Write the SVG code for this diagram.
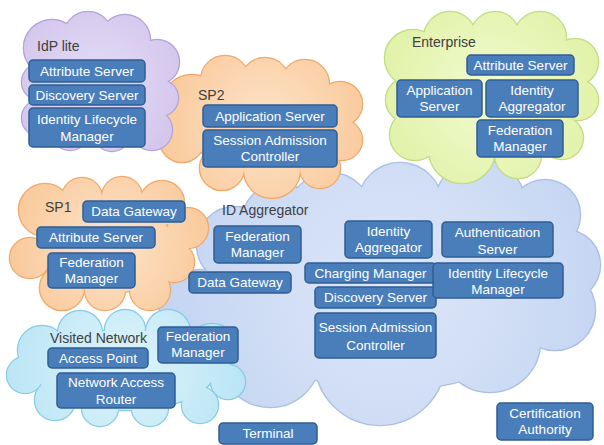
<svg xmlns="http://www.w3.org/2000/svg" xmlns:xlink="http://www.w3.org/1999/xlink" width="604" height="445" viewBox="0 0 604 445">
<style>
  .bg { fill: #ffffff; }
  .ol { stroke-width: 2.5; }
  .fl { stroke: none; }
  .box rect { fill: #4a7ebb; stroke: #2f5e95; stroke-width: 1.5; }
  .box text { fill: #ffffff; font-family: "Liberation Sans", Arial, sans-serif; font-size: 13.5px; text-anchor: middle; }
  .lbl { fill: #404040; font-family: "Liberation Sans", Arial, sans-serif; font-size: 14px; }
</style>
<defs>
  <radialGradient id="g-idp" gradientUnits="userSpaceOnUse" cx="97" cy="82" r="95">
    <stop offset="0" stop-color="#e4dcf6"/><stop offset="1" stop-color="#d2c5ec"/>
  </radialGradient>
  <radialGradient id="g-sp2" gradientUnits="userSpaceOnUse" cx="265" cy="125" r="115">
    <stop offset="0" stop-color="#fde4ca"/><stop offset="1" stop-color="#f9c797"/>
  </radialGradient>
  <radialGradient id="g-ent" gradientUnits="userSpaceOnUse" cx="490" cy="95" r="125">
    <stop offset="0" stop-color="#f2fad0"/><stop offset="1" stop-color="#dff1a4"/>
  </radialGradient>
  <radialGradient id="g-sp1" gradientUnits="userSpaceOnUse" cx="110" cy="245" r="110">
    <stop offset="0" stop-color="#fde4ca"/><stop offset="1" stop-color="#f9c797"/>
  </radialGradient>
  <radialGradient id="g-id" gradientUnits="userSpaceOnUse" cx="390" cy="290" r="235">
    <stop offset="0" stop-color="#dee7f8"/><stop offset="1" stop-color="#c3d4f2"/>
  </radialGradient>
  <radialGradient id="g-vis" gradientUnits="userSpaceOnUse" cx="125" cy="368" r="125">
    <stop offset="0" stop-color="#def4fb"/><stop offset="1" stop-color="#b9e4f5"/>
  </radialGradient>

  <g id="s-id">
    <circle cx="235" cy="245" r="38"/><circle cx="280" cy="222" r="38"/>
    <circle cx="330" cy="215" r="42"/><circle cx="400" cy="205" r="42"/>
    <circle cx="480" cy="205" r="45"/><circle cx="545" cy="215" r="35"/>
    <circle cx="565" cy="265" r="35"/><circle cx="555" cy="310" r="40"/>
    <circle cx="490" cy="342" r="50"/><circle cx="380" cy="360" r="65"/>
    <circle cx="270" cy="357" r="50"/><circle cx="200" cy="310" r="40"/>
    <ellipse cx="390" cy="290" rx="170" ry="100"/>
  </g>
  <g id="s-sp2">
    <circle cx="192" cy="105" r="30"/><circle cx="225" cy="80" r="24"/>
    <circle cx="265" cy="82" r="24"/><circle cx="305" cy="84" r="24"/>
    <circle cx="340" cy="104" r="22"/><circle cx="342" cy="140" r="20"/>
    <circle cx="320" cy="168" r="20"/><circle cx="272" cy="170" r="28"/>
    <circle cx="222" cy="168" r="22"/><circle cx="182" cy="140" r="22"/>
    <ellipse cx="265" cy="128" rx="75" ry="45"/>
  </g>
  <g id="s-ent">
    <circle cx="413" cy="58" r="28"/><circle cx="450" cy="38" r="26"/>
    <circle cx="495" cy="36" r="24"/><circle cx="540" cy="38" r="26"/>
    <circle cx="575" cy="62" r="23"/><circle cx="578" cy="100" r="20"/>
    <circle cx="562" cy="138" r="21"/><circle cx="518" cy="155" r="23"/>
    <circle cx="462" cy="150" r="33"/><circle cx="415" cy="135" r="25"/>
    <circle cx="408" cy="100" r="22"/>
    <ellipse cx="490" cy="100" rx="80" ry="55"/>
  </g>
  <g id="s-sp1">
    <circle cx="45" cy="210" r="26"/><circle cx="82" cy="198" r="20"/>
    <circle cx="122" cy="197" r="20"/><circle cx="162" cy="203" r="22"/>
    <circle cx="188" cy="228" r="20"/><circle cx="174" cy="262" r="20"/>
    <circle cx="150" cy="290" r="20"/><circle cx="105" cy="290" r="20"/>
    <circle cx="62" cy="288" r="22"/><circle cx="30" cy="258" r="20"/>
    <ellipse cx="110" cy="248" rx="65" ry="45"/>
  </g>
  <g id="s-vis">
    <circle cx="42" cy="350" r="24"/><circle cx="80" cy="333" r="22"/>
    <circle cx="125" cy="330" r="20"/><circle cx="168" cy="332" r="22"/>
    <circle cx="212" cy="348" r="24"/><circle cx="228" cy="382" r="17"/>
    <circle cx="200" cy="405" r="18"/><circle cx="150" cy="408" r="18"/>
    <circle cx="100" cy="408" r="18"/><circle cx="55" cy="400" r="20"/>
    <circle cx="25" cy="375" r="18"/>
    <ellipse cx="125" cy="370" rx="90" ry="40"/>
  </g>
  <g id="s-idp">
    <circle cx="52" cy="48" r="28"/><circle cx="88" cy="36" r="24"/>
    <circle cx="125" cy="40" r="25"/><circle cx="157" cy="62" r="22"/>
    <circle cx="160" cy="98" r="18"/><circle cx="152" cy="130" r="20"/>
    <circle cx="112" cy="133" r="18"/><circle cx="70" cy="132" r="18"/>
    <circle cx="40" cy="118" r="18"/><circle cx="40" cy="82" r="18"/>
    <ellipse cx="95" cy="90" rx="60" ry="50"/>
  </g>
</defs>

<rect class="bg" x="0" y="0" width="604" height="445"/>

<g id="clouds">
  <g id="cloud-id-aggregator">
    <use xlink:href="#s-id" class="ol" fill="#a9bfe4" stroke="#a9bfe4"/>
    <use xlink:href="#s-id" class="fl" fill="url(#g-id)"/>
    <text class="lbl" x="222" y="215">ID Aggregator</text>
  </g>
  <g id="cloud-sp2">
    <use xlink:href="#s-sp2" class="ol" fill="#f2a86a" stroke="#f2a86a"/>
    <use xlink:href="#s-sp2" class="fl" fill="url(#g-sp2)"/>
    <text class="lbl" x="198" y="100">SP2</text>
  </g>
  <g id="cloud-enterprise">
    <use xlink:href="#s-ent" class="ol" fill="#c2dc80" stroke="#c2dc80"/>
    <use xlink:href="#s-ent" class="fl" fill="url(#g-ent)"/>
    <text class="lbl" x="412" y="47">Enterprise</text>
  </g>
  <g id="cloud-sp1">
    <use xlink:href="#s-sp1" class="ol" fill="#f2a86a" stroke="#f2a86a"/>
    <use xlink:href="#s-sp1" class="fl" fill="url(#g-sp1)"/>
    <text class="lbl" x="45" y="212">SP1</text>
  </g>
  <g id="cloud-visited-network">
    <use xlink:href="#s-vis" class="ol" fill="#86cbe6" stroke="#86cbe6"/>
    <use xlink:href="#s-vis" class="fl" fill="url(#g-vis)"/>
    <text class="lbl" x="50" y="343">Visited Network</text>
  </g>
  <g id="cloud-idp-lite">
    <use xlink:href="#s-idp" class="ol" fill="#b3a3d7" stroke="#b3a3d7"/>
    <use xlink:href="#s-idp" class="fl" fill="url(#g-idp)"/>
    <text class="lbl" x="37" y="51">IdP lite</text>
  </g>
</g>

<g id="connectors"/>

<g id="nodes">
  <!-- IdP lite -->
  <g id="idp-attribute-server" class="box"><rect x="29" y="60" width="116" height="22" rx="4"/><text x="87" y="76">Attribute Server</text></g>
  <g id="idp-discovery-server" class="box"><rect x="29" y="85" width="116" height="20" rx="4"/><text x="87" y="100">Discovery Server</text></g>
  <g id="idp-identity-lifecycle-manager" class="box"><rect x="29" y="108" width="116" height="39" rx="4"/><text x="87" y="124">Identity Lifecycle</text><text x="87" y="141">Manager</text></g>

  <!-- SP2 -->
  <g id="sp2-application-server" class="box"><rect x="203" y="105" width="134" height="22" rx="4"/><text x="270" y="121">Application Server</text></g>
  <g id="sp2-session-admission-controller" class="box"><rect x="203" y="130" width="134" height="37" rx="4"/><text x="270" y="145">Session Admission</text><text x="270" y="161">Controller</text></g>

  <!-- Enterprise -->
  <g id="ent-attribute-server" class="box"><rect x="467" y="55" width="107" height="20" rx="4"/><text x="520.5" y="70">Attribute Server</text></g>
  <g id="ent-application-server" class="box"><rect x="397" y="80" width="85" height="37" rx="4"/><text x="439.5" y="95">Application</text><text x="439.5" y="111">Server</text></g>
  <g id="ent-identity-aggregator" class="box"><rect x="486" y="80" width="92" height="37" rx="4"/><text x="532" y="95">Identity</text><text x="532" y="111">Aggregator</text></g>
  <g id="ent-federation-manager" class="box"><rect x="477" y="120" width="86" height="37" rx="4"/><text x="520" y="135">Federation</text><text x="520" y="151">Manager</text></g>

  <!-- SP1 -->
  <g id="sp1-data-gateway" class="box"><rect x="83" y="201" width="102" height="21" rx="4"/><text x="134" y="216">Data Gateway</text></g>
  <g id="sp1-attribute-server" class="box"><rect x="37" y="227" width="118" height="21" rx="4"/><text x="96" y="242">Attribute Server</text></g>
  <g id="sp1-federation-manager" class="box"><rect x="48" y="253" width="87" height="35" rx="4"/><text x="91.5" y="267">Federation</text><text x="91.5" y="283">Manager</text></g>

  <!-- ID Aggregator -->
  <g id="ida-federation-manager" class="box"><rect x="214" y="226" width="87" height="37" rx="4"/><text x="257.5" y="241">Federation</text><text x="257.5" y="257">Manager</text></g>
  <g id="ida-data-gateway" class="box"><rect x="189" y="272" width="102" height="21" rx="4"/><text x="240" y="287">Data Gateway</text></g>
  <g id="ida-identity-aggregator" class="box"><rect x="345" y="221" width="87" height="37" rx="4"/><text x="388.5" y="236">Identity</text><text x="388.5" y="252">Aggregator</text></g>
  <g id="ida-charging-manager" class="box"><rect x="305" y="263" width="131" height="20" rx="4"/><text x="370.5" y="278">Charging Manager</text></g>
  <g id="ida-discovery-server" class="box"><rect x="315" y="287" width="121" height="21" rx="4"/><text x="375.5" y="302">Discovery Server</text></g>
  <g id="ida-session-admission-controller" class="box"><rect x="315" y="313" width="121" height="45" rx="4"/><text x="375.5" y="332">Session Admission</text><text x="375.5" y="350">Controller</text></g>
  <g id="ida-authentication-server" class="box"><rect x="442" y="222" width="111" height="35" rx="4"/><text x="497.5" y="237">Authentication</text><text x="497.5" y="254">Server</text></g>
  <g id="ida-identity-lifecycle-manager" class="box"><rect x="433" y="263" width="130" height="35" rx="4"/><text x="498" y="278">Identity Lifecycle</text><text x="498" y="294">Manager</text></g>

  <!-- Visited Network -->
  <g id="vis-access-point" class="box"><rect x="48" y="348" width="100" height="20" rx="4"/><text x="98" y="363">Access Point</text></g>
  <g id="vis-network-access-router" class="box"><rect x="57" y="373" width="118" height="35" rx="4"/><text x="116" y="387">Network Access</text><text x="116" y="404">Router</text></g>
  <g id="vis-federation-manager" class="box"><rect x="158" y="327" width="80" height="36" rx="4"/><text x="198" y="341">Federation</text><text x="198" y="357">Manager</text></g>

  <!-- Outside -->
  <g id="terminal" class="box"><rect x="219" y="423" width="98" height="21" rx="4"/><text x="268" y="438">Terminal</text></g>
  <g id="certification-authority" class="box"><rect x="497" y="403" width="96" height="37" rx="4"/><text x="545" y="418">Certification</text><text x="545" y="434">Authority</text></g>
</g>
</svg>
